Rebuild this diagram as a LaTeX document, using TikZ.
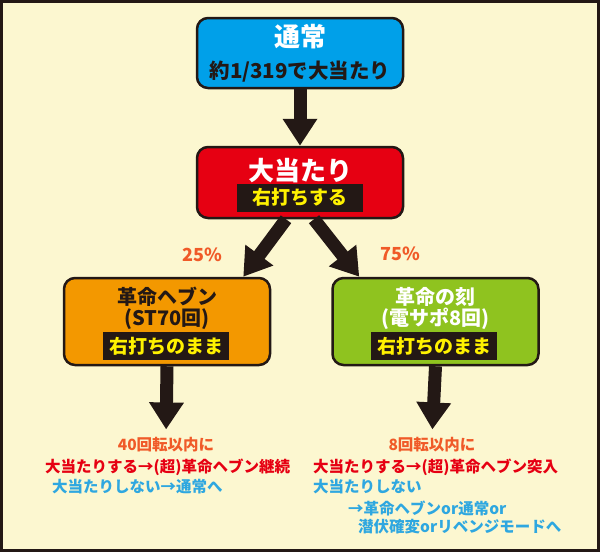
\documentclass[tikz,border=0pt]{standalone}
\usepackage{fontspec}
\setmainfont{Noto Sans CJK JP}
\usepackage{xcolor}
\usetikzlibrary{arrows.meta,positioning}
\definecolor{bgcream}{RGB}{252,247,208}
\definecolor{frame}{RGB}{35,24,21}
\definecolor{normalblue}{RGB}{0,160,233}
\definecolor{hitred}{RGB}{230,0,18}
\definecolor{heavenorange}{RGB}{243,152,0}
\definecolor{kokugreen}{RGB}{143,195,31}
\definecolor{bandyellow}{RGB}{255,241,0}
\definecolor{noteorange}{RGB}{240,90,40}
\definecolor{notered}{RGB}{230,0,18}
\definecolor{noteblue}{RGB}{46,167,224}
\newcommand\fs[1]{\fontsize{#1pt}{#1pt}\selectfont\bfseries}

\begin{document}
\begin{tikzpicture}[y=-1pt,x=1pt,
	box/.style={draw=frame, line width=2.5pt, rounded corners=11pt, minimum width=206pt, inner sep=0pt},
	band/.style={fill=frame, text=bandyellow, inner sep=0pt, minimum height=28pt, font=\fs{19}},
	bigarrow/.style={draw=frame, line width=13pt, -{Triangle[width=33pt,length=27pt]}},
	note/.style={inner sep=0pt, font=\fs{15.5}},
	pct/.style={inner sep=0pt, text=noteorange, font=\fs{18}}]
	\useasboundingbox (0,0) rectangle (600,552);
	\fill[frame] (0,0) rectangle (600,552);
	\fill[bgcream] (3,3) rectangle (597,549);

	\node[box, fill=normalblue, minimum height=70pt] (normal) at (300,53) {};
	\node[text=white, font=\fs{26}] (normaltitle) at (300,37) {通常};
	\node[text=frame, font=\fs{20.5}] (normalodds) at (300,72) {約1/319で大当たり};

	\node[box, fill=hitred, minimum height=71pt] (hit) at (300,182.5) {};
	\node[text=white, font=\fs{26}] (hittitle) at (300,171) {大当たり};
	\node[band, minimum width=126pt] (hitband) at (300,197.5) {右打ちする};

	\node[box, fill=heavenorange, minimum height=87pt] (heaven) at (167,321.5) {};
	\node[text=frame, font=\fs{20}] (heaventitle) at (167,297) {革命ヘブン};
	\node[text=frame, font=\fs{20}] (heavenst) at (167,319) {(ST70回)};
	\node[band, minimum width=126pt] (heavenband) at (166,346) {右打ちのまま};

	\node[box, fill=kokugreen, minimum height=87pt] (koku) at (435.5,321.5) {};
	\node[text=white, font=\fs{20}] (kokutitle) at (435.5,297) {革命の刻};
	\node[text=white, font=\fs{20}] (kokust) at (435.5,319) {(電サポ8回)};
	\node[band, minimum width=126pt] (kokuband) at (434,346) {右打ちのまま};

	\node[pct] (pctheaven) at (202,255) {25\%};
	\node[pct] (pctkoku) at (400,254) {75\%};

	\node[note, text=noteorange] (heavennote) at (166,445) {40回転以内に};
	\node[note, text=notered, anchor=west] (heavenwin) at (45,467) {大当たりする→(超)革命ヘブン継続};
	\node[note, text=noteblue, anchor=west] (heavenlose) at (52,487) {大当たりしない→通常へ};

	\node[note, text=noteorange] (kokunote) at (432,445) {8回転以内に};
	\node[note, text=notered, anchor=west] (kokuwin) at (313,467) {大当たりする→(超)革命ヘブン突入};
	\node[note, text=noteblue, anchor=west] (kokulose) at (313,487) {大当たりしない};
	\node[note, text=noteblue, anchor=west] (kokuto) at (348,508) {→革命ヘブンor通常or};
	\node[note, text=noteblue, anchor=west] (kokuelse) at (358,527) {潜伏確変orリベンジモードへ};

	\draw[bigarrow] (normal.south) -- (hit.north);
	\draw[bigarrow] ([xshift=-14pt]hit.south) -- ([xshift=-28pt]heaven.north east);
	\draw[bigarrow] ([xshift=14pt]hit.south) -- ([xshift=28pt]koku.north west);
	\draw[bigarrow, shorten >=8pt] (heaven.south) -- (heavennote.north);
	\draw[bigarrow, shorten >=8pt] (koku.south) -- (kokunote.north);
\end{tikzpicture}
\end{document}
